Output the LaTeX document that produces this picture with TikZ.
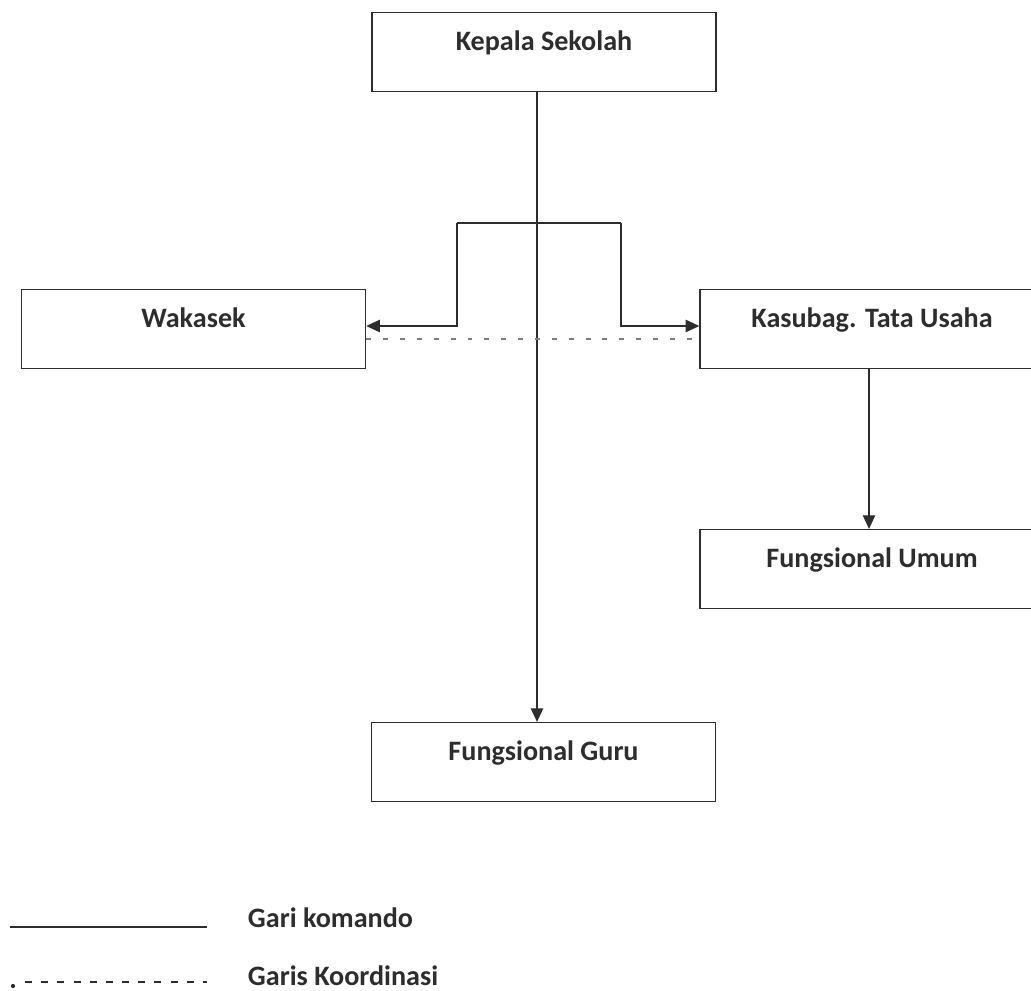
\documentclass[tikz,border=0pt]{standalone}
\usepackage{fontspec}
\setmainfont{Carlito}
\usetikzlibrary{arrows.meta,positioning,calc}
\definecolor{ink}{RGB}{45,45,45}
\definecolor{coord}{RGB}{125,125,125}

\begin{document}
\begin{tikzpicture}[x=0.025cm,y=-0.025cm,
  unit/.style={draw=ink,line width=1pt,minimum width=8.6cm,minimum height=1.97cm,
               inner sep=0pt,text height=14pt,text depth=16pt,text=ink,
               font=\fontsize{20}{24}\selectfont\bfseries},
  cmd/.style={draw=ink,line width=0.9pt},
  arr/.style={cmd,-{Triangle[length=3.4mm,width=3.1mm]}},
  kor/.style={draw=coord,line width=0.9pt,dash pattern=on 3.5pt off 8.5pt},
  lbl/.style={anchor=west,inner sep=0.5pt,text=ink,font=\fontsize{20}{24}\selectfont\bfseries}
]
\useasboundingbox (0,0) rectangle (1031,991);

\node[unit] (ks) at (544,52) {Kepala Sekolah};
\node[unit] (wk) at (193.5,329) {Wakasek};
\node[unit] (tu) at (872,329) {Kasubag. Tata Usaha};
\node[unit] (fu) at (872,569) {Fungsional Umum};
\node[unit] (fg) at (543.5,762) {Fungsional Guru};

% garis komando
\coordinate (sp) at (537,223);
\coordinate (bl) at (457,223);
\coordinate (br) at (621,223);
\draw[arr] (ks.south -| sp) -- (fg.north -| sp);
\draw[cmd] (bl) -- (br);
\draw[arr] (bl) |- ([yshift=0.75mm]wk.east);
\draw[arr] (br) |- ([yshift=0.75mm]tu.west);
\draw[arr] ([xshift=-0.75mm]tu.south) -- ([xshift=-0.75mm]fu.north);

% garis koordinasi
\draw[kor] ([yshift=-2.5mm]wk.east) -- ([yshift=-2.5mm]tu.west);

% keterangan
\coordinate (k1) at (10,927);
\coordinate (k2) at (207,927);
\draw[ink,line width=1.6pt] (k1) -- (k2);
\node[lbl] (lk) at (247,918) {Gari komando};
\coordinate (g1) at (25,982);
\coordinate (g2) at (207,982);
\fill[ink] (13,986) circle (1.5pt);
\draw[ink,line width=1.6pt,dash pattern=on 5pt off 6.5pt] (g1) -- (g2);
\node[lbl] (lg) at (247,976) {Garis Koordinasi};
\end{tikzpicture}
\end{document}
